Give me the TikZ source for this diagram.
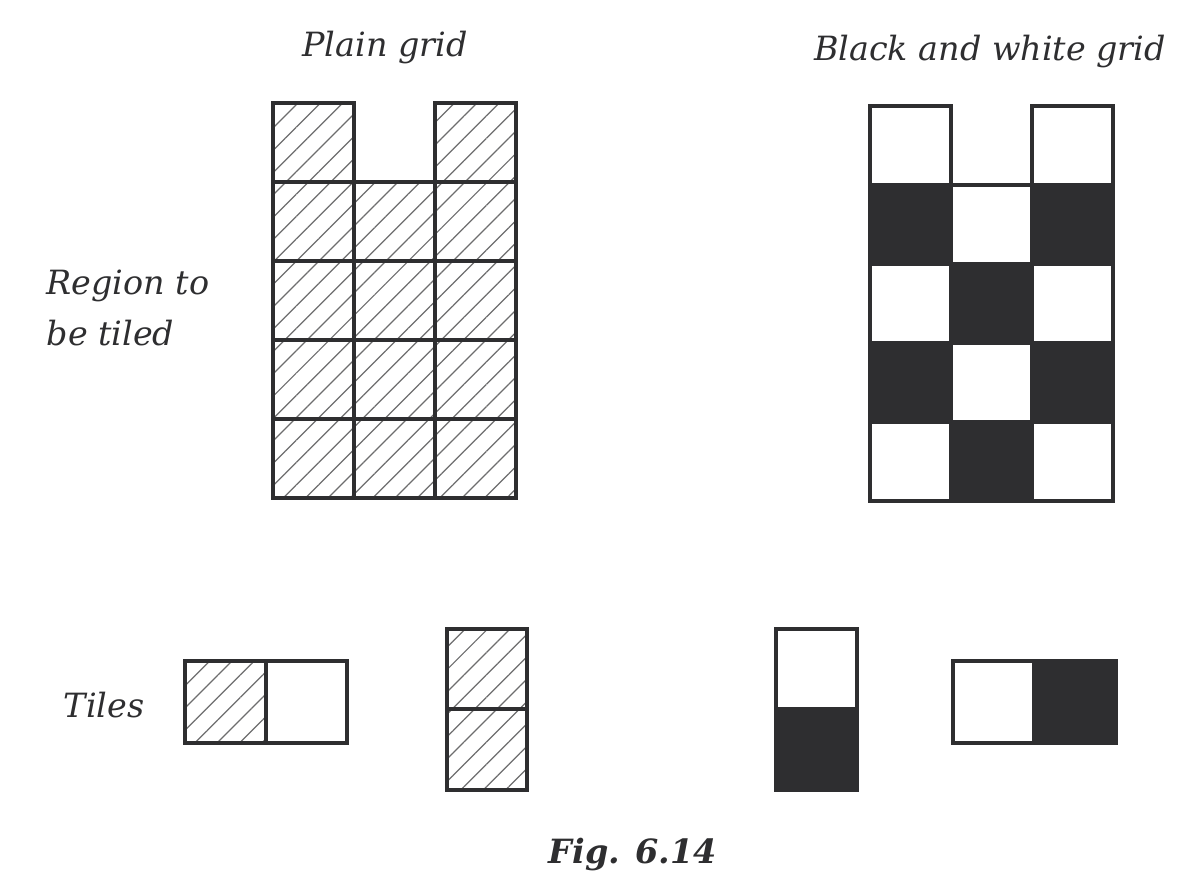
\documentclass[tikz,border=0pt]{standalone}
\usepackage{fontspec}
\setmainfont{DejaVu Serif}
\usetikzlibrary{patterns.meta}
\definecolor{ink}{HTML}{2E2E30}
\tikzset{
  cell/.style={draw=ink, line width=1.8pt},
  hatched/.style={cell, pattern={Lines[angle=45,distance=9pt,line width=0.7pt]}, pattern color=ink!70},
  blackcell/.style={cell, fill=ink},
  whitecell/.style={cell, fill=white},
  caption/.style={font=\itshape\fontsize{19}{23}\selectfont, text=ink},
}
\begin{document}
\begin{tikzpicture}[x=0.02cm,y=-0.02cm]
\useasboundingbox (0,0) rectangle (1200,893);
% labels
\node[caption] (plain) at (385,48) {Plain grid};
\node[caption] (bw) at (990,52) {Black and white grid};
\node[caption, align=left] (region) at (128,308) {Region to\\[6pt]be tiled};
\node[caption] (tiles) at (104,705) {Tiles};
\node[caption, font=\bfseries\itshape\fontsize{19}{23}\selectfont] (fig) at (633,855) {Fig. 6.14};

% plain grid
\foreach \c in {0,2}
  \draw[hatched] (273+81*\c,103) rectangle ++(81,79);
\foreach \r in {1,...,4}
  \foreach \c in {0,1,2}
    \draw[hatched] (273+81*\c,103+79*\r) rectangle ++(81,79);

% black and white grid
\foreach \c in {0,2}
  \draw[whitecell] (870+81*\c,106) rectangle ++(81,79);
\foreach \r in {1,...,4}
  \foreach \c in {0,1,2}{
    \pgfmathtruncatemacro{\odd}{mod(\r+\c,2)}
    \ifnum\odd=1 \def\sty{blackcell}\else \def\sty{whitecell}\fi
    \draw[\sty] (870+81*\c,106+79*\r) rectangle ++(81,79);
  }

% tiles
\draw[hatched] (185,661) rectangle ++(81,82);
\draw[whitecell] (266,661) rectangle ++(81,82);
\draw[hatched] (447,629) rectangle ++(80,80);
\draw[hatched] (447,709) rectangle ++(80,81);
\draw[whitecell] (776,629) rectangle ++(81,80);
\draw[blackcell] (776,709) rectangle ++(81,81);
\draw[whitecell] (953,661) rectangle ++(81,82);
\draw[blackcell] (1034,661) rectangle ++(82,82);
\end{tikzpicture}
\end{document}
